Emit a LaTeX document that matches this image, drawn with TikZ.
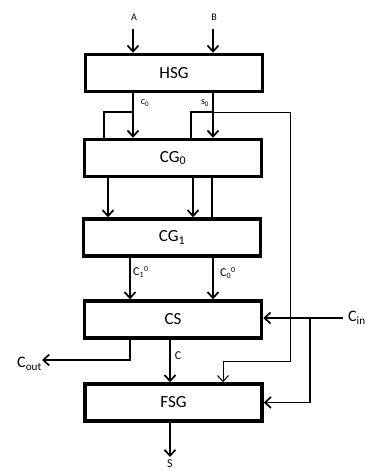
\documentclass[tikz,border=0pt]{standalone}
\usepackage{fontspec}
\setmainfont{Carlito}
\usetikzlibrary{arrows.meta}
\tikzset{
  blk/.style={draw, line width=3.5pt, minimum width=177pt, minimum height=37pt, inner sep=0pt, font=\fontsize{17}{17}\selectfont},
  lbl/.style={inner sep=0pt, font=\fontsize{10}{10}\selectfont},
  midlbl/.style={inner sep=0pt, font=\fontsize{12}{12}\selectfont},
  biglbl/.style={inner sep=0pt, font=\fontsize{16}{16}\selectfont},
  tip/.style={-{Straight Barb[length=6pt,width=11pt]}},
  sig/.style={line width=1.7pt, tip},
  wire/.style={line width=1.4pt},
  thinwire/.style={line width=1pt},
}
\begin{document}
\begin{tikzpicture}[x=1pt,y=-1pt]
\useasboundingbox (0,0) rectangle (367,472);
\node[blk] (hsg) at (174,73) {HSG};
\node[blk] (cg0) at (173,158) {CG\textsubscript{0}};
\node[blk] (cg1) at (172,237.5) {CG\textsubscript{1}};
\node[blk] (cs) at (173,319.5) {CS};
\node[blk] (fsg) at (173.5,402.5) {FSG};
% inputs
\coordinate (inA) at (133,29);
\coordinate (inB) at (213,29);
\node[lbl] (la) at (134,17) {A};
\node[lbl] (lb) at (214,17) {B};
\draw[sig] (inA) -- (inA |- hsg.north);
\draw[sig] (inB) -- (inB |- hsg.north);
% c0 and s0
\coordinate (c0br) at (104,112);
\coordinate (s0br) at (191,112);
\coordinate (s0far) at (290,361);
\coordinate (fsgin) at (223,361);
\draw[sig] (hsg.south -| inA) -- (cg0.north -| inA);
\draw[sig] (hsg.south -| inB) -- (cg0.north -| inB);
\draw[wire] (inA |- c0br) -- (c0br) -- (c0br |- cg0.north);
\draw[wire] (inB |- s0br) -- (s0br) -- (s0br |- cg0.north);
\draw[thinwire,tip] (inB |- s0br) -- (s0far |- s0br) -- (s0far) -- (fsgin) -- (fsgin |- fsg.north);
\node[lbl] (lc0) at (145,103) {c\textsubscript{0}};
\node[lbl] (ls0) at (205,103) {s\textsubscript{0}};
% cg0 to cg1
\foreach \x in {108,193}
  \draw[sig] (cg0.south -| \x,0) -- (cg1.north -| \x,0);
\draw[line width=2.2pt] (cg0.south -| 212,0) -- (cg1.north -| 212,0);
% cg1 to cs
\draw[sig] (cg1.south -| 130,0) -- (cs.north -| 130,0);
\draw[sig] (cg1.south -| 213,0) -- (cs.north -| 213,0);
\node[midlbl,anchor=west] (lc1) at (133,272) {C\textsubscript{1}\textsuperscript{0}};
\node[midlbl,anchor=west] (lc00) at (220,273) {C\textsubscript{0}\textsuperscript{0}};
% carry in
\node[biglbl,anchor=west] (cin) at (348,318) {C\textsubscript{in}};
\coordinate (cbr) at (310,318);
\draw[sig] ([xshift=-5pt]cin.west) -- (cs.east |- cin.west);
\draw[sig] (cbr) |- (fsg.east);
% carry out and c
\coordinate (cout) at (42,360);
\draw[sig] (cs.south -| 130,0) |- (cout);
\node[biglbl,anchor=east] (lcout) at (42,364) {C\textsubscript{out}};
\draw[sig] (cs.south -| 170,0) -- (fsg.north -| 170,0);
\node[midlbl] (lcc) at (178,356) {C};
% sum
\coordinate (sout) at (170,457);
\draw[sig] (fsg.south -| sout) -- (sout);
\node[midlbl] (ls) at (170,464) {S};
\end{tikzpicture}
\end{document}
